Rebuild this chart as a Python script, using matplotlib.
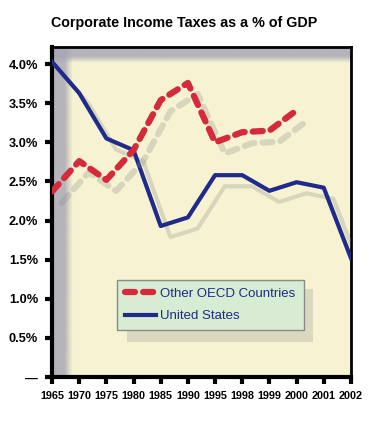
import numpy as np
import matplotlib.pyplot as plt
import matplotlib.patheffects as pe
from matplotlib.patches import Rectangle

plt.rcParams['font.family'] = ['Liberation Sans', 'DejaVu Sans']

# --------- Data ---------
years = ['1965', '1970', '1975', '1980', '1985', '1990', '1995', '1998', '1999', '2000', '2001', '2002']
us = [4.03, 3.63, 3.05, 2.90, 1.93, 2.04, 2.58, 2.58, 2.38, 2.49, 2.42, 1.52]
oecd = [2.37, 2.76, 2.52, 2.90, 3.54, 3.76, 3.00, 3.13, 3.15, 3.41]
y_ticks = [0, 0.5, 1.0, 1.5, 2.0, 2.5, 3.0, 3.5, 4.0]
y_labels = ['\u2014', '0.5%', '1.0%', '1.5%', '2.0%', '2.5%', '3.0%', '3.5%', '4.0%']

NAVY = '#1f2a8a'
RED = '#d42a3c'
BEIGE = '#f7f3d2'

fig = plt.figure(figsize=(3.69, 4.23), dpi=100)
ax = fig.add_axes([0.141, 0.109, 0.810, 0.780])
ax.set_facecolor(BEIGE)

x = np.arange(len(years))

# gray "wall" on left and top, fading into the background
wall = np.array([165, 165, 180]) / 255
grad = np.concatenate([np.full(30, 0.8), np.linspace(0.8, 0, 20)])
left = np.zeros((1, 50, 4))
left[..., :3] = wall
left[..., 3] = grad
ax.imshow(left, extent=(0, 0.07, 0, 1), transform=ax.transAxes, aspect='auto', zorder=1)
top = np.zeros((50, 1, 4))
top[..., :3] = wall
top[..., 3] = grad[:, None]
ax.imshow(top, extent=(0, 1, 0.95, 1), transform=ax.transAxes, aspect='auto', zorder=1)
ax.set_xlim(0, len(years) - 1)
ax.set_ylim(0, 4.22)

shadow = [pe.SimpleLineShadow(offset=(7, -8), shadow_color='#8a8a8a', alpha=0.28), pe.Normal()]
ax.plot(x[:len(oecd)], oecd, color=RED, lw=4.5, dashes=(1.6, 1.3), solid_capstyle='round',
        dash_capstyle='round', label='Other OECD Countries', path_effects=shadow, zorder=4)
ax.plot(x, us, color=NAVY, lw=3, label='United States', path_effects=shadow, zorder=3)

ax.set_xticks(x)
ax.set_xticklabels(years, fontsize=7.8, fontweight='bold')
ax.set_yticks(y_ticks)
ax.set_yticklabels(y_labels, fontsize=9.2, fontweight='bold')
ax.tick_params(axis='both', direction='out', length=5, width=3, color='black')
ax.tick_params(axis='y', pad=5)
ax.tick_params(axis='x', pad=5)

for side in ['left', 'bottom']:
    ax.spines[side].set_linewidth(3)
for side in ['top', 'right']:
    ax.spines[side].set_linewidth(2)

# legend with drop shadow
ax.add_patch(Rectangle((0.25, 0.105), 0.622, 0.16, transform=ax.transAxes,
                       facecolor='#8a8a8a', alpha=0.25, edgecolor='none', zorder=5))
leg = ax.legend(loc='lower left', bbox_to_anchor=(0.217, 0.142), borderaxespad=0,
                fontsize=9.5, frameon=True, fancybox=False, handlelength=2.4,
                borderpad=0.6, labelspacing=0.75, handletextpad=0.3)
leg.get_frame().set_facecolor('#d7ecd3')
leg.get_frame().set_edgecolor('#8a8a8a')
leg.get_frame().set_alpha(1)
leg.set_zorder(6)
for t in leg.get_texts():
    t.set_color(NAVY)
for h in leg.get_lines():
    h.set_path_effects([])

fig.text(0.5, 0.945, 'Corporate Income Taxes as a % of GDP', ha='center', va='center',
         fontsize=10.3, fontweight='bold')

plt.savefig('out.png', dpi=100)
